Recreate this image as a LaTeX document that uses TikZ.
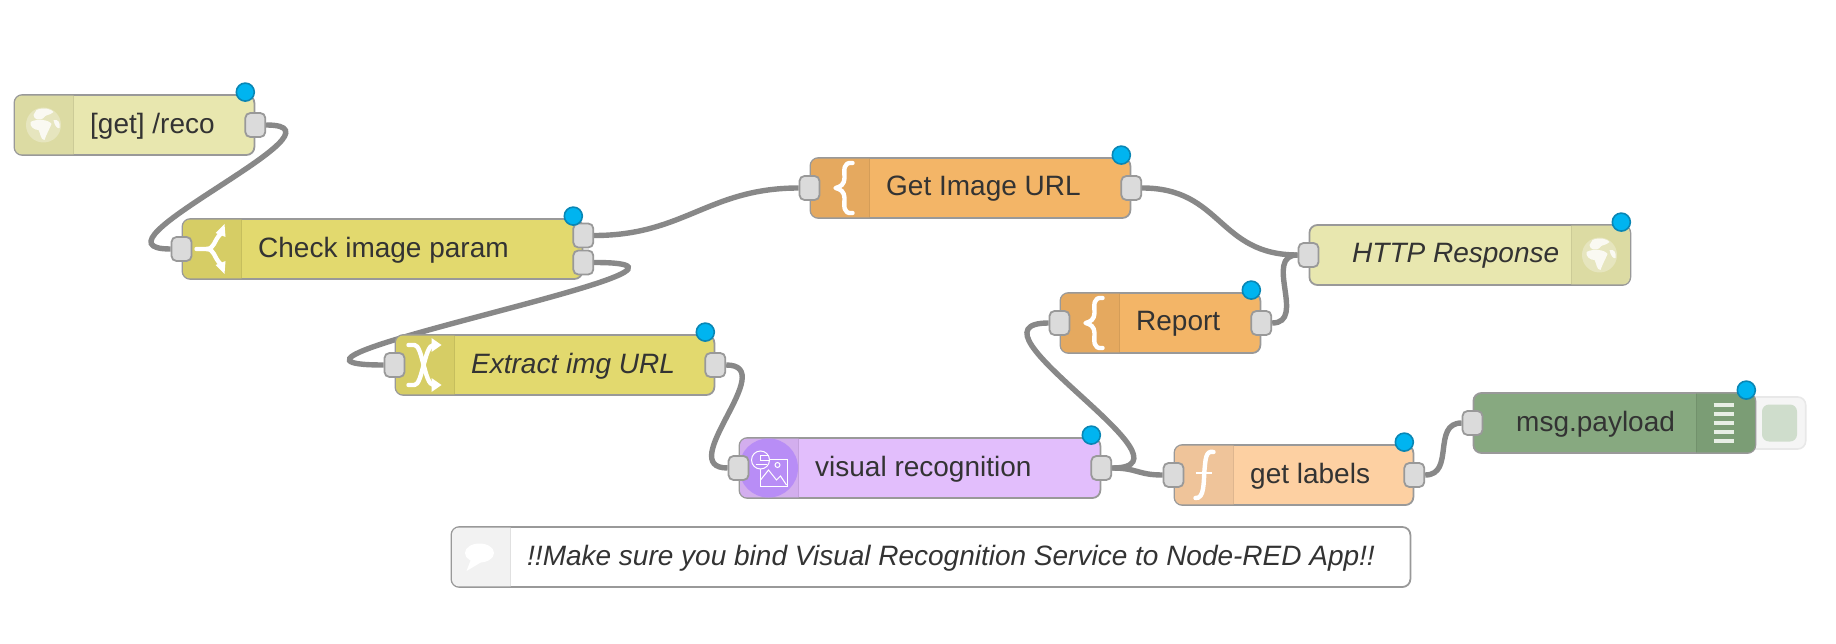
\documentclass[tikz,border=0pt]{standalone}
\usepackage{fontspec}
\setmainfont{Liberation Sans}
\usepackage{xcolor}
\usetikzlibrary{backgrounds,calc}
\definecolor{httpc}{HTML}{E8E7AF}
\definecolor{httpctab}{HTML}{DCDBA3}
\definecolor{swit}{HTML}{E2D96E}
\definecolor{swittab}{HTML}{D6CD65}
\definecolor{tmpl}{HTML}{F3B567}
\definecolor{tmpltab}{HTML}{E5A95F}
\definecolor{func}{HTML}{FDD0A2}
\definecolor{functab}{HTML}{EFC49A}
\definecolor{vrec}{HTML}{E2BEFC}
\definecolor{vrectab}{HTML}{D3AEEE}
\definecolor{vcirc}{HTML}{B88DF6}
\definecolor{dbug}{HTML}{87A980}
\definecolor{dbugtab}{HTML}{7B9D75}
\definecolor{cmnt}{HTML}{FFFFFF}
\definecolor{cmnttab}{HTML}{F2F2F2}
\definecolor{edge}{HTML}{999999}
\definecolor{wirec}{HTML}{888888}
\definecolor{dotc}{HTML}{00B4F0}
\definecolor{dotedge}{HTML}{0A86B4}
\begin{document}
\begin{tikzpicture}[x=1pt,y=-1pt,
  flowbox/.style={draw=edge,line width=1.8pt,rounded corners=8pt,minimum height=60,inner sep=0pt},
  flowtext/.style={font=\fontsize{28}{32}\selectfont,text=black!80,inner sep=0pt,anchor=west},
  port/.style={draw=edge,fill=black!14,line width=1.8pt,rounded corners=5pt,minimum width=20,minimum height=24,inner sep=0pt},
  dot/.style={circle,draw=dotedge,fill=dotc,line width=1.6pt,minimum size=18,inner sep=0pt},
  wire/.style={draw=wirec,line width=5.4pt},
  icon/.style={draw=white,line width=4.4pt,line cap=round,line join=round}]
\useasboundingbox (0,0) rectangle (1836,644);
\def\flow#1#2#3#4#5#6{\node[flowbox,fill=#5,minimum width=#4,anchor=west] (#1) at (#2,#3) {};
  \begin{scope}
  \clip[rounded corners=7pt] ([shift={(1.5,1.5)}]#1.north west) rectangle ([shift={(-1.5,-1.5)}]#1.south east);
  \fill[#5tab] (#1.north west) rectangle ([xshift=60]#1.south west);
  \draw[black,opacity=.07,line width=1.4pt] ([xshift=60]#1.north west) -- ([xshift=60]#1.south west);
  \end{scope}
  \node[flowtext] (#1text) at ([shift={(76.5,1)}]#1.west) {#6};}
\def\flowr#1#2#3#4#5#6{\node[flowbox,fill=#5,minimum width=#4,anchor=west] (#1) at (#2,#3) {};
  \begin{scope}
  \clip[rounded corners=7pt] ([shift={(1.5,1.5)}]#1.north west) rectangle ([shift={(-1.5,-1.5)}]#1.south east);
  \fill[#5tab] ([xshift=-60]#1.north east) rectangle (#1.south east);
  \draw[black,opacity=.07,line width=1.4pt] ([xshift=-60]#1.north east) -- ([xshift=-60]#1.south east);
  \end{scope}
  \node[flowtext] (#1text) at ([shift={(43.5,1)}]#1.west) {#6};}
\def\globe#1#2{\begin{scope}[shift={(#1,#2)}]
  \fill[white,opacity=.3] (0,0) circle (17.5);
  \fill[white,opacity=.8] (-7,-15) .. controls (0,-18) and (8,-16) .. (10,-13) .. controls (6,-9) and (2,-11) .. (0,-7) .. controls (-3,-4) and (-10,-5) .. (-10,-10) -- cycle;
  \fill[white,opacity=.8] (-13,-3) .. controls (-6,-7) and (6,-5) .. (8,-1) .. controls (6,4) and (3,9) .. (1,15) .. controls (-3,15) and (-3,8) .. (-5,5) .. controls (-9,5) and (-14,2) .. (-13,-3) -- cycle;
  \fill[white,opacity=.8] (10,-5) .. controls (15,-6) and (17,-2) .. (16,3) .. controls (14,4) and (11,1) .. (10,-5) -- cycle;
  \end{scope}}
\def\brace#1#2{\begin{scope}[shift={(#1,#2)}]
  \draw[icon] (9,-25) .. controls (-1,-26) and (1,-18) .. (1,-10) .. controls (1,-4) and (-3,-1) .. (-8,0) .. controls (-3,1) and (1,4) .. (1,10) .. controls (1,18) and (-1,26) .. (9,25);
  \end{scope}}
\flow{reco}{13.5}{125}{240}{httpc}{[get] /reco}
\flow{check}{181.5}{249}{400}{swit}{Check image param}
\flow{url}{809.5}{188}{320}{tmpl}{Get Image URL}
\flowr{resp}{1308.5}{255}{321}{httpc}{\itshape HTTP Response}
\flow{report}{1059.5}{323}{200}{tmpl}{Report}
\flow{extract}{394.5}{365}{319}{swit}{\itshape Extract img URL}
\flow{vis}{738.5}{468}{361}{vrec}{visual recognition}
\flow{labels}{1173.5}{475}{239}{func}{get labels}
\node[draw=black!9,fill=black!4,line width=1.6pt,rounded corners=8pt,minimum width=64,minimum height=52,inner sep=0pt,anchor=east] (dbtn) at (1806.5,423) {};
\node[fill=dbug!40,rounded corners=7pt,minimum width=35,minimum height=37,inner sep=0pt] (dbtnin) at (1779.5,423) {};
\flowr{debug}{1472.5}{423}{282}{dbug}{msg.payload}
\flow{note}{450.5}{557}{959}{cmnt}{\itshape !!Make sure you bind Visual Recognition Service to Node-RED App!!}
\globe{43.5}{125}
\globe{1599.5}{255}
\begin{scope}[shift={(211.5,249)}]
  \draw[icon] (-15,0) -- (-5,0) .. controls (3,0) and (2,-8) .. (9,-15);
  \draw[icon] (-5,0) .. controls (3,0) and (2,8) .. (9,15);
  \fill[white] (4,-16) -- (13,-25) -- (14,-12) -- cycle;
  \fill[white] (4,16) -- (13,25) -- (14,12) -- cycle;
\end{scope}
\begin{scope}[shift={(424.5,365)}]
  \draw[icon] (-16,-20) -- (-10,-20) .. controls (-2,-20) and (0,20) .. (9,20);
  \draw[icon] (-16,20) -- (-10,20) .. controls (-2,20) and (0,-20) .. (9,-20);
  \fill[white] (7,-27) -- (17,-20) -- (7,-13) -- cycle;
  \fill[white] (7,27) -- (17,20) -- (7,13) -- cycle;
\end{scope}
\brace{843.5}{188}
\brace{1093.5}{323}
\begin{scope}[shift={(1203.5,475)}]
  \draw[icon] (10,-23) .. controls (2,-25) and (2,-15) .. (1,-5) .. controls (0,7) and (1,24) .. (-8,23);
  \draw[draw=white,line width=2.4pt] (-8,-2) -- (8,-2);
\end{scope}
\begin{scope}
  \clip ([yshift=1]vis.south west) rectangle ([yshift=-1]vis.north east);
  \fill[vcirc] ([xshift=30]vis.west) circle (29.5);
\end{scope}
\begin{scope}[shift={(768.5,468)},draw=white,line width=1pt]
  \draw (-8,-9) rectangle (19,18);
  \draw (-8,12) -- (0,2) -- (8,12) -- (12,8) -- (18,17);
  \draw (9,-3) circle (2.5);
  \fill[vcirc] (-8,-8) circle (9);
  \draw (-8,-8) circle (9);
  \draw (0,-13) -- (-8,-13) -- (-8,-8) -- (0,-8) (-13,-4) -- (-2,-4);
\end{scope}
\foreach \yb in {-18,-9,0,9,18}{\draw[white!80!dbug,line width=3.4pt] (1713.5,423+\yb) -- (1733.5,423+\yb);}
\begin{scope}[shift={(479.5,553)}]
  \fill[white] (0,0) ellipse (14.5 and 9.5);
  \fill[white] (-8,5) -- (-13,18) -- (2,9) -- cycle;
\end{scope}
\node[port] (recoout) at (reco.east) {};
\node[port] (checkin) at (check.west) {};
\node[port] (checkouta) at ([yshift=13.5]check.east) {};
\node[port] (checkoutb) at ([yshift=-13.5]check.east) {};
\node[port] (urlin) at (url.west) {};
\node[port] (urlout) at (url.east) {};
\node[port] (respin) at (resp.west) {};
\node[port] (reportin) at (report.west) {};
\node[port] (reportout) at (report.east) {};
\node[port] (extractin) at (extract.west) {};
\node[port] (extractout) at (extract.east) {};
\node[port] (visin) at (vis.west) {};
\node[port] (visout) at (vis.east) {};
\node[port] (labelsin) at (labels.west) {};
\node[port] (labelsout) at (labels.east) {};
\node[port] (debugin) at (debug.west) {};
\node[dot] (recodot) at ([shift={(-10,-2)}]reco.north east) {};
\node[dot] (checkdot) at ([shift={(-10,-2)}]check.north east) {};
\node[dot] (urldot) at ([shift={(-10,-2)}]url.north east) {};
\node[dot] (respdot) at ([shift={(-10,-2)}]resp.north east) {};
\node[dot] (reportdot) at ([shift={(-10,-2)}]report.north east) {};
\node[dot] (extractdot) at ([shift={(-10,-2)}]extract.north east) {};
\node[dot] (visdot) at ([shift={(-10,-2)}]vis.north east) {};
\node[dot] (labelsdot) at ([shift={(-10,-2)}]labels.north east) {};
\node[dot] (debugdot) at ([shift={(-10,-2)}]debug.north east) {};
\begin{pgfonlayer}{background}
\draw[wire] (recoout.east) .. controls +(95,0) and +(-95,0) .. (checkin.west);
\draw[wire] (checkouta.east) .. controls +(90,0) and +(-90,0) .. (urlin.west);
\draw[wire] (checkoutb.east) .. controls +(175,0) and +(-175,0) .. (extractin.west);
\draw[wire] (extractout.east) .. controls +(55,0) and +(-55,0) .. (visin.west);
\draw[wire] (visout.east) .. controls +(25,0) and +(-25,0) .. (labelsin.west);
\draw[wire] (visout.east) .. controls +(95,0) and +(-95,0) .. (reportin.west);
\draw[wire] (labelsout.east) .. controls +(30,0) and +(-30,0) .. (debugin.west);
\draw[wire] (urlout.east) .. controls +(80,0) and +(-80,0) .. (respin.west);
\draw[wire] (reportout.east) .. controls +(35,0) and +(-35,0) .. (respin.west);
\end{pgfonlayer}
\end{tikzpicture}
\end{document}
